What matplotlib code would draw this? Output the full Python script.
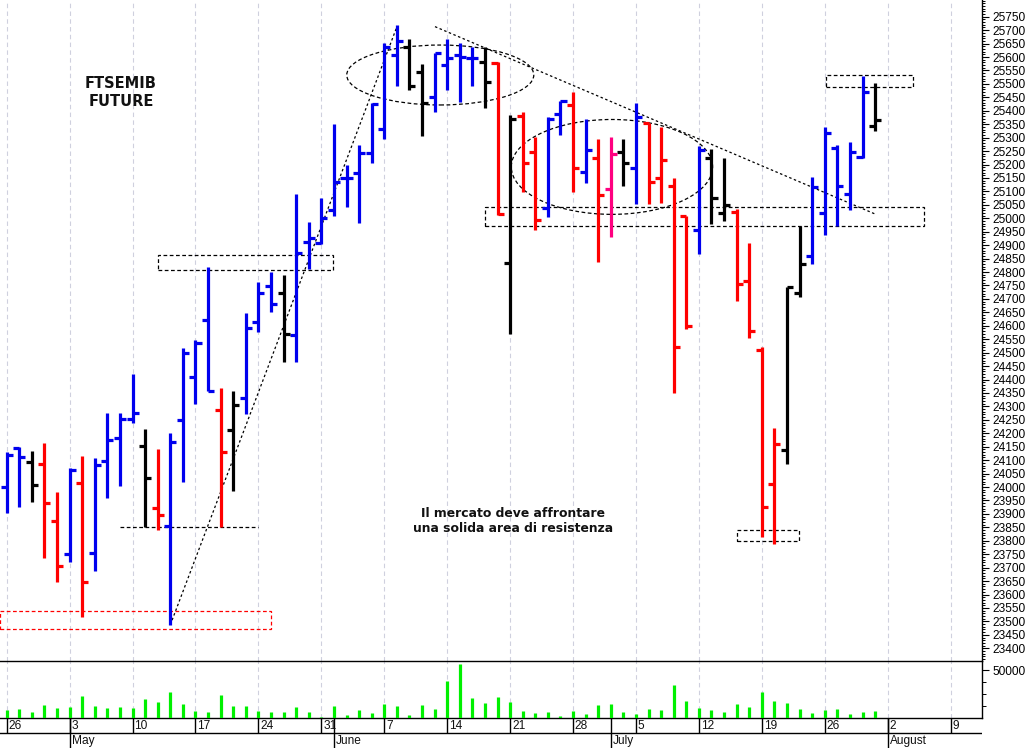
import matplotlib
matplotlib.use('Agg')
import matplotlib.pyplot as plt
from matplotlib.patches import Rectangle, Ellipse
from matplotlib.ticker import MultipleLocator, FixedLocator, NullFormatter
import numpy as np

# ---------------- data (FTSEMIB future, daily OHLC, 26 Apr - 30 Jul 2021) ----------------
opens = [24001, 24144, 24092, 24085, 23874, 23750, 24014, 23753, 24097, 24181,
         24252, 24151, 23921, 23856, 24248, 24408, 24621, 24287, 24212, 24330,
         24615, 24749, 24723, 24566, 24913, 24907, 25031, 25149, 25167, 25244,
         25331, 25607, 25638, 25543, 25452, 25570, 25607, 25597, 25583, 25577,
         24832, 25381, 25248, 25037, 25387, 25421, 25171, 25223, 25109, 25248,
         25186, 25353, 25149, 25120, 25008, 24956, 25223, 25021, 25024, 24768,
         24510, 24011, 24138, 24723, 24860, 25018, 25260, 25090, 25229, 25343]
highs = [24131, 24148, 24135, 24163, 23980, 24072, 24114, 24107, 24275, 24274,
         24422, 24215, 24140, 24200, 24516, 24547, 24818, 24370, 24357, 24646,
         24764, 24799, 24789, 25090, 24987, 25074, 25351, 25198, 25273, 25430,
         25651, 25719, 25666, 25573, 25616, 25666, 25653, 25636, 25636, 25583,
         25384, 25394, 25303, 25378, 25437, 25471, 25369, 25295, 25301, 25294,
         25430, 25356, 25341, 25151, 25008, 25269, 25257, 25223, 25033, 24907,
         24522, 24218, 24743, 24971, 25152, 25341, 25273, 25285, 25529, 25502]
lows = [23902, 23925, 23944, 23735, 23645, 23722, 23517, 23688, 23958, 24004,
        24237, 23850, 23840, 23487, 24020, 24309, 24357, 23850, 23984, 24271,
        24578, 24652, 24466, 24466, 24810, 24904, 25008, 25043, 24981, 25205,
        25295, 25492, 25477, 25307, 25397, 25477, 25431, 25492, 25409, 25012,
        24568, 25099, 24956, 25006, 25310, 25097, 25132, 24838, 24929, 25120,
        25053, 25053, 25058, 24351, 24587, 24867, 24978, 24990, 24693, 24553,
        23813, 23788, 24086, 24708, 24830, 24938, 24971, 25031, 25225, 25326]
closes = [24119, 24112, 24006, 23940, 23705, 24063, 23648, 24082, 24175, 24252,
          24275, 24032, 23896, 24166, 24498, 24535, 24357, 24129, 24304, 24591,
          24721, 24681, 24569, 24870, 24925, 25000, 25134, 25149, 25244, 25424,
          25638, 25660, 25492, 25428, 25616, 25597, 25601, 25597, 25506, 25015,
          25368, 25205, 24994, 25369, 25437, 25186, 25254, 25087, 25239, 25207,
          25376, 25134, 25217, 24520, 24599, 25254, 25074, 25049, 24755, 24582,
          23925, 24160, 24743, 24829, 25117, 25318, 25120, 25248, 25469, 25366]
bar_colors = list("bbkrrbrbbb" "bkrbbbbrkb" "bbkbbbbbbb" "bbkkbbbbkr"
                  "krrbbrbrpk" "brrrrbkkrr" "rrkkbbbbbk")
volumes = [8800, 9100, 6300, 14000, 10900, 11900, 22700, 13000, 10900, 11200,
           9900, 19600, 16500, 26900, 15100, 7000, 6700, 23800, 12300, 13000,
           7800, 6000, 6700, 11200, 6000, 1000, 12900, 3500, 8000, 4900,
           14900, 12900, 2800, 13900, 9000, 38200, 56300, 20500, 15600, 21500,
           16700, 7600, 4900, 6600, 1700, 6900, 3800, 13900, 14200, 6300,
           3800, 9000, 8700, 34400, 17700, 10100, 8000, 6300, 14200, 11800,
           26700, 17700, 16000, 9000, 5200, 8000, 9000, 4200, 6300, 6900]
week_starts = [0, 5, 10, 15, 20, 25, 30, 35, 40, 45, 50, 55, 60, 65, 70, 75]
week_labels = ['26', '3', '10', '17', '24', '31', '7', '14', '21', '28',
               '5', '12', '19', '26', '2', '9']
month_starts = [5, 26, 48, 70]
month_labels = ['May', 'June', 'July', 'August']
price_labels = list(range(23400, 25751, 50))

COLORS = {'b': '#0000ee', 'r': '#ff0000', 'k': '#000000', 'p': '#ff0080'}
VOL_COLOR = '#00f000'
GRID_COLOR = '#cfd0de'
TXT = '#111111'

# ---------------- layout ----------------
W, H = 1030.0, 748.0
fig = plt.figure(figsize=(W / 100, H / 100), dpi=100)
fig.patch.set_facecolor('white')
XR = 981.7 / W
ax = fig.add_axes([0, 1 - 660.7 / H, XR, 660.7 / H])
axv = fig.add_axes([0, 1 - 718 / H, XR, 57.3 / H])
axd = fig.add_axes([0, 0, XR, 30 / H])

XMIN, XMAX = -0.532, 77.47
for a in (ax, axv, axd):
    a.set_xlim(XMIN, XMAX)
    a.set_facecolor('none')
ax.set_ylim(23353.7, 25812.1)
axv.set_ylim(0, 59690)

x = np.arange(len(opens))
cols = [COLORS[c] for c in bar_colors]

# grid
for a in (ax, axv):
    for d in week_starts:
        a.axvline(d, color=GRID_COLOR, lw=0.8, ls=(0, (4, 3)), zorder=0)

# OHLC bars
LW = 2.3
TL = 0.48
ax.vlines(x, lows, highs, colors=cols, lw=LW, capstyle='butt', zorder=3)
ax.hlines(opens, x - TL, x, colors=cols, lw=LW, capstyle='butt', zorder=3)
ax.hlines(closes, x, x + TL, colors=cols, lw=LW, capstyle='butt', zorder=3)

# volume
axv.vlines(x, 0, volumes, colors=VOL_COLOR, lw=2.3, capstyle='butt', zorder=3)

# ---------------- axes styling ----------------
fontname = 'Liberation Sans'
for s in ('top', 'left', 'bottom'):
    ax.spines[s].set_visible(False)
ax.spines['right'].set_linewidth(1.0)
ax.xaxis.set_visible(False)
ax.yaxis.tick_right()
ax.yaxis.set_major_locator(FixedLocator(price_labels))
ax.yaxis.set_minor_locator(MultipleLocator(10))
ax.yaxis.set_minor_formatter(NullFormatter())
ax.tick_params(axis='y', which='major', length=5, width=0.8, pad=3,
               labelsize=8.6, colors='black')
ax.tick_params(axis='y', which='minor', length=2.5, width=0.7)
for lab in ax.get_yticklabels():
    lab.set_fontname(fontname)

axv.spines['left'].set_visible(False)
for s in ('top', 'bottom', 'right'):
    axv.spines[s].set_linewidth(1.0)
axv.xaxis.set_visible(False)
axv.yaxis.tick_right()
axv.yaxis.set_major_locator(FixedLocator([50000]))
axv.yaxis.set_minor_locator(FixedLocator([12500, 25000, 37500]))
axv.yaxis.set_minor_formatter(NullFormatter())
axv.tick_params(axis='y', which='major', length=5, width=0.8, pad=3, labelsize=8.6)
axv.tick_params(axis='y', which='minor', length=3, width=0.7)
for lab in axv.get_yticklabels():
    lab.set_fontname(fontname)

# date rows
axd.set_ylim(0, 2)
axd.axis('off')
axd.axhline(1, color='black', lw=1.0)
axd.vlines(week_starts, 1, 2, colors='black', lw=1.0)
axd.vlines(month_starts, 0, 2, colors='black', lw=1.0)
for d, lab in zip(week_starts, week_labels):
    axd.text(d + 0.15, 1.48, lab, ha='left', va='center', fontsize=8.6,
             fontname=fontname, color=TXT, clip_on=False)
for d, lab in zip(month_starts, month_labels):
    axd.text(d + 0.15, 0.45, lab, ha='left', va='center', fontsize=8.6,
             fontname=fontname, color=TXT, clip_on=False)

# ---------------- annotations ----------------
dash = (0, (3, 2))
dot = (0, (2, 2))
ax.add_patch(Rectangle((-0.55, 23470), 21.55, 70, fill=False, ec='#ff0000',
                       lw=0.9, ls=dash, zorder=2, clip_on=False))
ax.plot([9.0, 20.0], [23850, 23850], color='black', lw=0.9, ls=dash, zorder=2)
ax.add_patch(Rectangle((12.05, 24808), 13.9, 55, fill=False, ec='black',
                       lw=0.9, ls=dash, zorder=2))
ax.plot([13.0, 31.0], [23487, 25712], color='black', lw=0.9, ls=dot, zorder=2)
ax.add_patch(Ellipse((34.45, 25533), 14.86, 223, fill=False, ec='black',
                     lw=0.9, ls=dash, zorder=2))
ax.add_patch(Ellipse((48.09, 25191), 16.0, 353, fill=False, ec='black',
                     lw=0.9, ls=dash, zorder=2))
ax.plot([34.03, 68.99], [25713, 25016], color='black', lw=0.9, ls=dot, zorder=2)
ax.add_patch(Rectangle((38.0, 24972), 34.9, 69, fill=False, ec='black',
                       lw=0.9, ls=dash, zorder=2))
ax.add_patch(Rectangle((65.07, 25490), 6.91, 43, fill=False, ec='black',
                       lw=0.9, ls=dash, zorder=2))
ax.add_patch(Rectangle((58.05, 23800), 4.88, 40, fill=False, ec='black',
                       lw=0.9, ls=dash, zorder=2))

# texts
ax.text(9.03, 25502, 'FTSEMIB', ha='center', va='center', fontsize=10.5,
        fontweight='bold', family='DejaVu Sans', color=TXT)
ax.text(9.08, 25434, 'FUTURE', ha='center', va='center', fontsize=10.5,
        fontweight='bold', family='DejaVu Sans', color=TXT)
ax.text(40.23, 23903, 'Il mercato deve affrontare', ha='center', va='center',
        fontsize=8.9, fontweight='bold', family='DejaVu Sans', color=TXT)
ax.text(40.23, 23847, 'una solida area di resistenza', ha='center', va='center',
        fontsize=8.9, fontweight='bold', family='DejaVu Sans', color=TXT)

fig.savefig('out.png', dpi=100, facecolor='white')
